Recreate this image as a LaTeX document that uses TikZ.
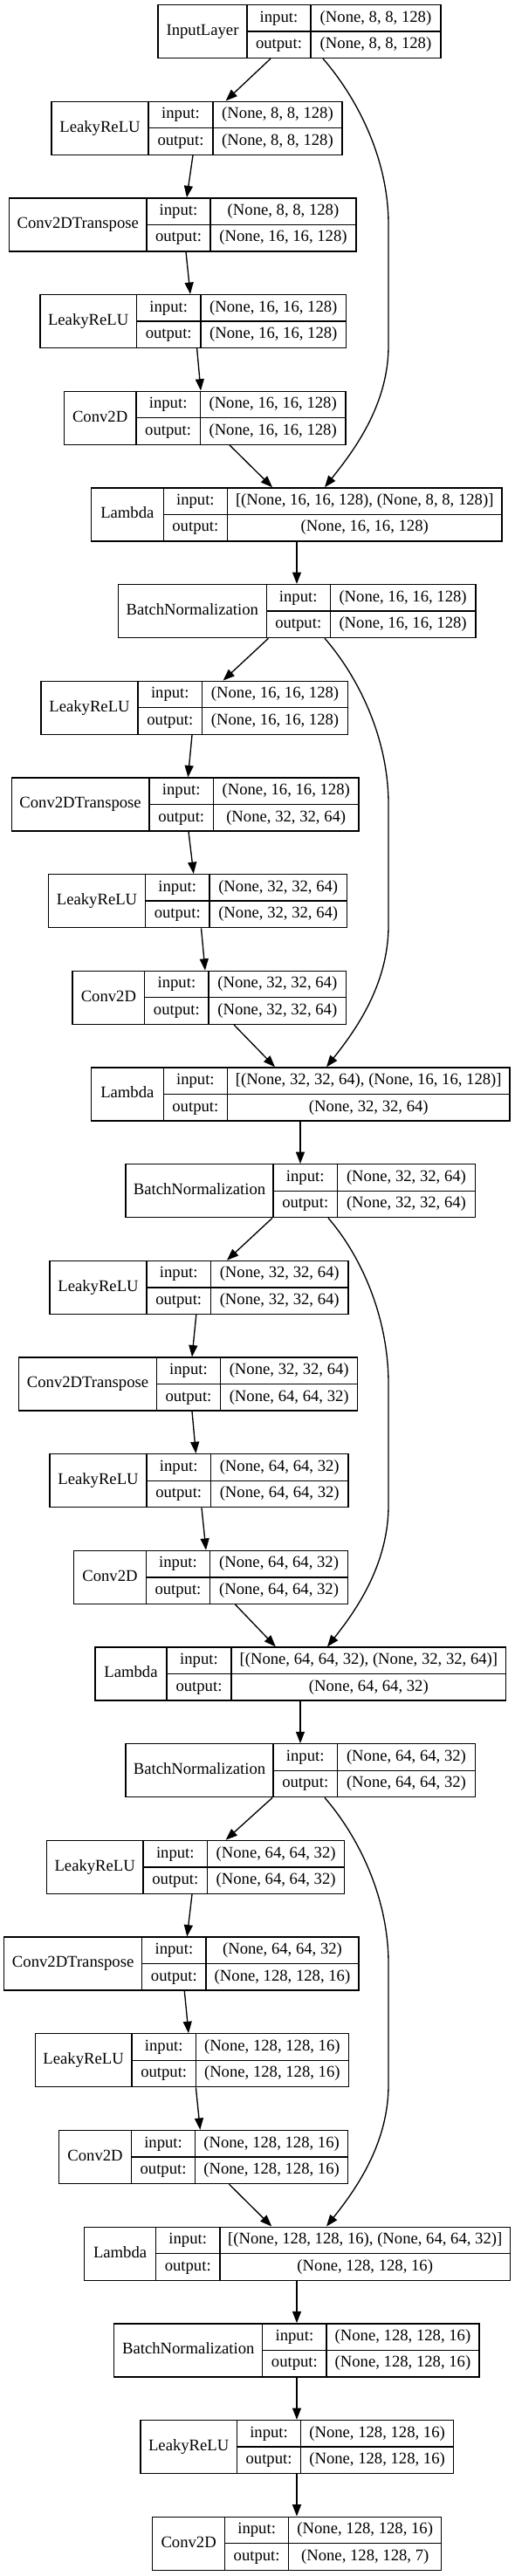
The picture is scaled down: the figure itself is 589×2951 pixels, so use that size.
\documentclass[tikz,border=0pt]{standalone}
\usepackage{fontspec}
\setmainfont{Liberation Serif}
\usetikzlibrary{arrows.meta,fit,calc}
\tikzset{
  kframe/.style={draw=black, line width=1pt, inner sep=0pt, rectangle},
  kline/.style={draw=black, line width=1pt},
  ktxt/.style={inner sep=0pt, font=\fontsize{14}{16.8}\selectfont, text height=9.5pt, text depth=3pt},
  arr/.style={draw=black, line width=1pt, -{Triangle[length=10pt,width=7.5pt]}},
}
% #1 name, #2 left, #3 div1, #4 div2, #5 right, #6 rank, #7 label, #8 input, #9 output
\newcommand{\kbox}[9]{%
  \pgfmathsetmacro{\kTop}{5.5+110.68*#6}%
  \pgfmathsetmacro{\kBot}{\kTop+61}%
  \pgfmathsetmacro{\kMid}{\kTop+30.5}%
  \pgfmathsetmacro{\kIy}{\kTop+15.25}%
  \pgfmathsetmacro{\kOy}{\kTop+45.75}%
  \node[kframe, fit={(#2,\kTop) (#5,\kBot)}] (#1) {};
  \draw[kline] (#3,\kTop) -- (#3,\kBot) (#4,\kTop) -- (#4,\kBot) (#3,\kMid) -- (#5,\kMid);
  \node[ktxt] (#1-name) at ({(#2+#3)/2},\kMid) {#7};
  \node[ktxt] (#1-il) at ({(#3+#4)/2},\kIy) {input:};
  \node[ktxt] (#1-ol) at ({(#3+#4)/2},\kOy) {output:};
  \node[ktxt] (#1-iv) at ({(#4+#5)/2},\kIy) {#8};
  \node[ktxt] (#1-ov) at ({(#4+#5)/2},\kOy) {#9};
}
% #1 from, #2 to, #3 start x, #4 end x
\newcommand{\kskip}[4]{%
  \draw[arr] (#1.south -| #3,0) .. controls +(35,40) and +(0,-80) .. ($(#1.south -| 445,0)+(0,190)$)
    -- ($(#2.north -| 445,0)+(0,-162)$) .. controls +(0,70) and +(30,-38) .. (#2.north -| #4,0);
}
% #1 from, #2 to, #3 start x, #4 end x
\newcommand{\karrow}[4]{%
  \draw[arr] (#1.south -| #3,0) -- (#2.north -| #4,0);
}
\begin{document}
\begin{tikzpicture}[x=0.75pt,y=-0.75pt]
\useasboundingbox (0,0) rectangle (589,2951);
\fill[white] (0,0) rectangle (589,2951);

\kbox{IL}{181}{283}{356}{505}{0}{InputLayer}{(None, 8, 8, 128)}{(None, 8, 8, 128)}
\kbox{LR1}{59}{170}{244}{392}{1}{LeakyReLU}{(None, 8, 8, 128)}{(None, 8, 8, 128)}
\kbox{CT1}{10.5}{168}{241}{408}{2}{Conv2DTranspose}{(None, 8, 8, 128)}{(None, 16, 16, 128)}
\kbox{LR2}{45.9}{156.4}{230}{396.6}{3}{LeakyReLU}{(None, 16, 16, 128)}{(None, 16, 16, 128)}
\kbox{CV1}{73.3}{156}{229.3}{396}{4}{Conv2D}{(None, 16, 16, 128)}{(None, 16, 16, 128)}
\kbox{LM1}{104.5}{187.2}{260.5}{575}{5}{Lambda}{[(None, 16, 16, 128), (None, 8, 8, 128)]}{(None, 16, 16, 128)}
\kbox{BN1}{135.3}{305.3}{378.2}{545}{6}{BatchNormalization}{(None, 16, 16, 128)}{(None, 16, 16, 128)}
\kbox{LR3}{47}{158}{231.6}{398.5}{7}{LeakyReLU}{(None, 16, 16, 128)}{(None, 16, 16, 128)}
\kbox{CT2}{13.2}{171}{244.4}{411}{8}{Conv2DTranspose}{(None, 16, 16, 128)}{(None, 32, 32, 64)}
\kbox{LR4}{55.6}{166.5}{240}{397.4}{9}{LeakyReLU}{(None, 32, 32, 64)}{(None, 32, 32, 64)}
\kbox{CV2}{83}{165.8}{239}{396.6}{10}{Conv2D}{(None, 32, 32, 64)}{(None, 32, 32, 64)}
\kbox{LM2}{104.5}{187.2}{260.5}{584}{11}{Lambda}{[(None, 32, 32, 64), (None, 16, 16, 128)]}{(None, 32, 32, 64)}
\kbox{BN2}{144}{313}{386.5}{544.4}{12}{BatchNormalization}{(None, 32, 32, 64)}{(None, 32, 32, 64)}
\kbox{LR5}{57}{168}{241.4}{399}{13}{LeakyReLU}{(None, 32, 32, 64)}{(None, 32, 32, 64)}
\kbox{CT3}{21.8}{179.3}{252.6}{409.8}{14}{Conv2DTranspose}{(None, 32, 32, 64)}{(None, 64, 64, 32)}
\kbox{LR6}{57}{168}{241.4}{399}{15}{LeakyReLU}{(None, 64, 64, 32)}{(None, 64, 64, 32)}
\kbox{CV3}{84.6}{167.3}{240.6}{398.5}{16}{Conv2D}{(None, 64, 64, 32)}{(None, 64, 64, 32)}
\kbox{LM3}{109}{191}{265}{579.7}{17}{Lambda}{[(None, 64, 64, 32), (None, 32, 32, 64)]}{(None, 64, 64, 32)}
\kbox{BN3}{144}{313}{386.5}{544.4}{18}{BatchNormalization}{(None, 64, 64, 32)}{(None, 64, 64, 32)}
\kbox{LR7}{53.4}{164}{237.6}{394.7}{19}{LeakyReLU}{(None, 64, 64, 32)}{(None, 64, 64, 32)}
\kbox{CT4}{4.5}{162.8}{236}{411}{20}{Conv2DTranspose}{(None, 64, 64, 32)}{(None, 128, 128, 16)}
\kbox{LR8}{40.2}{151}{224.4}{399.2}{21}{LeakyReLU}{(None, 128, 128, 16)}{(None, 128, 128, 16)}
\kbox{CV4}{67.7}{150.4}{223.7}{398.5}{22}{Conv2D}{(None, 128, 128, 16)}{(None, 128, 128, 16)}
\kbox{LM4}{96.6}{178.6}{251.9}{584.6}{23}{Lambda}{[(None, 128, 128, 16), (None, 64, 64, 32)]}{(None, 128, 128, 16)}
\kbox{BN4}{130.8}{300.8}{374}{548.9}{24}{BatchNormalization}{(None, 128, 128, 16)}{(None, 128, 128, 16)}
\kbox{LR9}{161}{271.4}{344.7}{519.5}{25}{LeakyReLU}{(None, 128, 128, 16)}{(None, 128, 128, 16)}
\kbox{CV5}{174.8}{257.5}{330.8}{505.6}{26}{Conv2D}{(None, 128, 128, 16)}{(None, 128, 128, 7)}

\karrow{IL}{LR1}{310}{258.6}
\karrow{LR1}{CT1}{221}{214}
\karrow{CT1}{LR2}{213}{218}
\karrow{LR2}{CV1}{225.6}{230}
\karrow{CV1}{LM1}{263}{312}
\kskip{IL}{LM1}{370}{372}
\karrow{LM1}{BN1}{340}{340}
\karrow{BN1}{LR3}{307.5}{255.6}
\kskip{BN1}{LM2}{372}{374}
\karrow{LR3}{CT2}{220}{215.4}
\karrow{CT2}{LR4}{216}{221.8}
\karrow{LR4}{CV2}{230.5}{235}
\karrow{CV2}{LM2}{268}{315}
\karrow{LM2}{BN2}{344}{344}
\karrow{BN2}{LR5}{312}{260}
\kskip{BN2}{LM3}{376}{375}
\karrow{LR5}{CT3}{224.8}{220}
\karrow{CT3}{LR6}{220}{224.4}
\karrow{LR6}{CV3}{231}{236}
\karrow{CV3}{LM3}{269.5}{315.8}
\karrow{LM3}{BN3}{344}{344}
\karrow{BN3}{LR7}{312}{258.6}
\kskip{BN3}{LM4}{372}{374}
\karrow{LR7}{CT4}{220}{214.3}
\karrow{CT4}{LR8}{211.3}{216}
\karrow{LR8}{CV4}{224.4}{229.3}
\karrow{CV4}{LM4}{262.4}{311.3}
\karrow{LM4}{BN4}{340}{340}
\karrow{BN4}{LR9}{340}{340}
\karrow{LR9}{CV5}{340}{340}
\end{tikzpicture}
\end{document}
